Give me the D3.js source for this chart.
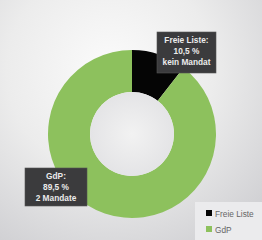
<!DOCTYPE html>
<html><head><meta charset="utf-8">
<script src="https://cdn.jsdelivr.net/npm/d3@7"></script>
<style>html,body{margin:0;padding:0;overflow:hidden;background:#fff}</style>
</head><body>
<svg id="c" width="262" height="240"></svg>
<script>
const categories = ["Freie Liste", "GdP"];
const values = [10.5, 89.5];
const labelLines = [["Freie Liste:", "10,5 %", "kein Mandat"], ["GdP:", "89,5 %", "2 Mandate"]];
const colors = ["#050505", "#8dc15d"];

const svg = d3.select("#c");
const defs = svg.append("defs");
const rg = defs.append("radialGradient").attr("id", "bg")
  .attr("gradientUnits", "userSpaceOnUse")
  .attr("cx", 110).attr("cy", 70).attr("r", 230);
rg.append("stop").attr("offset", "0%").attr("stop-color", "#fbfbfb");
rg.append("stop").attr("offset", "45%").attr("stop-color", "#ececec");
rg.append("stop").attr("offset", "100%").attr("stop-color", "#c9c9cd");
svg.append("rect").attr("width", 262).attr("height", 240).attr("fill", "url(#bg)");

const hg = defs.append("radialGradient").attr("id", "hole");
hg.append("stop").attr("offset", "0%").attr("stop-color", "#f2f2f2");
hg.append("stop").attr("offset", "100%").attr("stop-color", "#e4e4e6");

const cx = 132, cy = 134, R = 84, r = 42;
const g = svg.append("g").attr("transform", `translate(${cx},${cy})`);
const pie = d3.pie().sort(null).value(d => d)(values);
const arc = d3.arc().innerRadius(r).outerRadius(R);
g.selectAll("path").data(pie).join("path")
  .attr("d", arc).attr("fill", (d, i) => colors[i]);
g.append("circle").attr("r", r).attr("fill", "url(#hole)");

// labels
const boxes = [{x: 157, y: 32, w: 59, h: 41}, {x: 25, y: 168, w: 62, h: 38}];
boxes.forEach((b, i) => {
  const lg = svg.append("g");
  lg.append("rect").attr("x", b.x).attr("y", b.y).attr("width", b.w).attr("height", b.h)
    .attr("fill", "#3b3b3d").attr("stroke", "#555").attr("stroke-width", 0.6);
  labelLines[i].forEach((t, j) => {
    lg.append("text").attr("x", b.x + b.w / 2).attr("y", b.y + 11 + j * 11)
      .attr("text-anchor", "middle").attr("fill", "#ececec")
      .attr("font-family", "Liberation Sans, Arial, sans-serif")
      .attr("font-weight", "bold").attr("font-size", 8.3).text(t);
  });
});

// legend
const leg = svg.append("g");
leg.append("rect").attr("x", 195).attr("y", 202).attr("width", 67).attr("height", 38).attr("fill", "#ebebed");
categories.forEach((c, i) => {
  leg.append("rect").attr("x", 206).attr("y", 210 + i * 16).attr("width", 6).attr("height", 6).attr("fill", colors[i]);
  leg.append("text").attr("x", 215).attr("y", 216.5 + i * 16)
    .attr("fill", "#666").attr("font-family", "Liberation Sans, Arial, sans-serif")
    .attr("font-size", 8.3).text(c);
});
</script>
</body></html>
